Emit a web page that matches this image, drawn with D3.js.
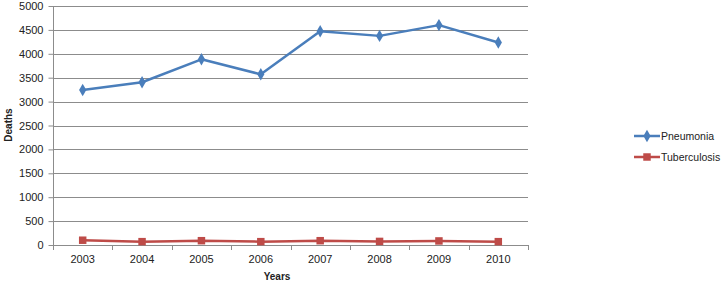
<!DOCTYPE html>
<html><head><meta charset="utf-8">
<script src="https://cdn.jsdelivr.net/npm/d3@7"></script>
<style>body{margin:0;background:#fff}svg{display:block}text{font-family:"Liberation Sans",Arial,sans-serif;fill:#222}</style>
</head><body><svg id="c" width="725" height="285"></svg>
<script>
const years = ["2003","2004","2005","2006","2007","2008","2009","2010"];
const pneumonia = [3245, 3405, 3885, 3570, 4470, 4375, 4600, 4235];
const tuberculosis = [100, 70, 90, 70, 90, 75, 85, 70];
const yTicks = [0,500,1000,1500,2000,2500,3000,3500,4000,4500,5000];

const svg = d3.select("#c");
const L = 53, R = 528, T = 6, B = 245;
const x = d3.scaleBand().domain(years).range([L, R]);
const y = d3.scaleLinear().domain([0, 5000]).range([B, T]);
const cx = d => x(d) + x.bandwidth()/2;

// gridlines
svg.append("g").selectAll("line").data(yTicks.filter(d=>d>0)).join("line")
  .attr("x1", L).attr("x2", R).attr("y1", d=>Math.round(y(d))+0.5).attr("y2", d=>Math.round(y(d))+0.5)
  .attr("stroke", "#8c8c8c").attr("stroke-width", 1);

// y axis
const ya = svg.append("g").attr("transform", `translate(${L+0.5},0)`)
  .call(d3.axisLeft(y).tickValues(yTicks).tickFormat(d3.format("d")).tickSize(5).tickPadding(5));
ya.select(".domain").attr("stroke", "#8c8c8c").attr("d", `M0,${T}V${B+0.5}`);
ya.selectAll(".tick line").attr("stroke", "#8c8c8c");
ya.selectAll("text").attr("font-size", 11).attr("font-family", "Liberation Sans, Arial, sans-serif").attr("fill","#222");

// x axis
const xa = svg.append("g").attr("transform", `translate(0,${Math.round(B)+0.5})`)
  .call(d3.axisBottom(x).tickSize(0).tickPadding(10));
xa.select(".domain").attr("stroke", "#8c8c8c").attr("d", `M${L},0H${R}`);
xa.selectAll("text").attr("font-size", 11).attr("font-family", "Liberation Sans, Arial, sans-serif").attr("fill","#222");
const bounds = years.map(d=>x(d)).concat([R]);
svg.append("g").selectAll("line").data(bounds).join("line")
  .attr("x1", d=>Math.round(d)+0.5).attr("x2", d=>Math.round(d)+0.5)
  .attr("y1", B).attr("y2", B+5).attr("stroke", "#8c8c8c");

// axis titles
svg.append("text").attr("x", 277).attr("y", 280).attr("text-anchor","middle")
  .attr("font-size", 10).attr("font-weight","bold").text("Years");
svg.append("text").attr("transform","translate(12,125) rotate(-90)").attr("text-anchor","middle")
  .attr("font-size", 10).attr("font-weight","bold").text("Deaths");

const line = d3.line().x((d,i)=>cx(years[i])).y(d=>y(d));
const blue = "#4A7EBB", red = "#BE4B48";

function series(vals, color, shape) {
  svg.append("path").datum(vals).attr("d", line).attr("fill","none")
    .attr("stroke", color).attr("stroke-width", 2.5).attr("stroke-linejoin","round");
  const sym = d3.symbol().type(shape).size(shape===d3.symbolSquare?56:45);
  svg.append("g").selectAll("path").data(vals).join("path")
    .attr("transform",(d,i)=>`translate(${cx(years[i])},${y(d)})`)
    .attr("d", sym).attr("fill", color);
}
series(pneumonia, blue, d3.symbolDiamond);
series(tuberculosis, red, d3.symbolSquare);

// legend
const leg = [["Pneumonia", blue, d3.symbolDiamond, 136], ["Tuberculosis", red, d3.symbolSquare, 157]];
leg.forEach(([name, color, shape, ly]) => {
  svg.append("line").attr("x1", 634).attr("x2", 660).attr("y1", ly).attr("y2", ly)
    .attr("stroke", color).attr("stroke-width", 2.5);
  svg.append("path").attr("transform", `translate(647,${ly})`)
    .attr("d", d3.symbol().type(shape).size(shape===d3.symbolSquare?56:45)).attr("fill", color);
  svg.append("text").attr("x", 661).attr("y", ly+4).attr("font-size", 10.5).text(name);
});
</script></body></html>
